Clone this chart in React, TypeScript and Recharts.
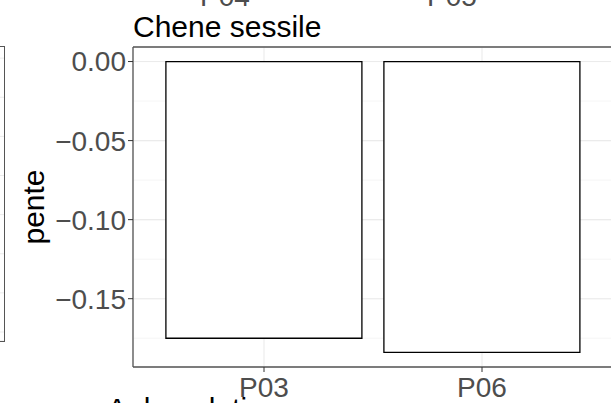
import { BarChart, Bar, XAxis, YAxis, CartesianGrid, Label, ReferenceLine } from 'recharts';

const sites = ['P03', 'P06'];
const pente = [-0.175, -0.184];
const yTicks = [0, -0.05, -0.1, -0.15];
const yMinorTicks = [0, -0.025, -0.05, -0.075, -0.1, -0.125, -0.15, -0.175];
const yDomain = [-0.1932, 0.0092];
const facetTitle = 'Chene sessile';
const nextFacetTitle = 'Aulne glutineux';
const aboveTicks = ['P04', 'P05'];
const leftPanelLines = [0, 1, 2, 3, 4, 5, 6, 7];

const data = sites.map((site, i) => ({ site, pente: pente[i] }));
const leftData = leftPanelLines.map((v) => ({ v }));

const FONT = '"Liberation Sans", Arial, sans-serif';
const TEXT = '#4D4D4D';
const BORDER = '#555555';

const fmt = (v: number) => (v === 0 ? '0.00' : '\u2212' + Math.abs(v).toFixed(2));

function YTitle(props: any) {
  const vb = props.viewBox;
  const x = vb.x + 33;
  const y = vb.y + vb.height / 2;
  return (
    <text
      x={x}
      y={y}
      transform={`rotate(-90, ${x}, ${y})`}
      textAnchor="middle"
      dominantBaseline="central"
      fontSize={30}
      fill="#000"
      fontFamily={FONT}
    >
      pente
    </text>
  );
}

export default function App() {
  return (
    <div
      style={{
        position: 'absolute',
        left: 0,
        top: 0,
        width: 611,
        height: 403,
        overflow: 'hidden',
        background: '#fff',
        fontFamily: FONT,
      }}
    >
      {/* neighbouring panel on the left, only its right edge shows */}
      <div style={{ position: 'absolute', left: -95, top: 46 }}>
        <BarChart width={100} height={295} data={leftData} margin={{ top: 0, right: 0, bottom: 0, left: 0 }}>
          <CartesianGrid vertical={false} stroke="#EBEBEB" strokeWidth={1} />
          <XAxis dataKey="v" hide />
          <YAxis type="number" hide reversed domain={[-0.31, 7.23]} ticks={leftPanelLines} allowDataOverflow />
        </BarChart>
      </div>
      <div
        style={{
          position: 'absolute',
          left: -10,
          top: 46,
          width: 14,
          height: 294,
          borderTop: `1.3px solid ${BORDER}`,
          borderRight: `1.3px solid ${BORDER}`,
          borderBottom: `1.3px solid ${BORDER}`,
        }}
      />

      {/* tick labels of the panel above, cut by the frame */}
      {aboveTicks.map((t, i) => (
        <div
          key={t}
          style={{
            position: 'absolute',
            top: -17,
            left: i === 0 ? 200 : 427,
            fontSize: 28,
            lineHeight: 1,
            color: TEXT,
          }}
        >
          {t}
        </div>
      ))}

      <div style={{ position: 'absolute', left: 133, top: 12, fontSize: 30, lineHeight: 1, color: '#000' }}>
        {facetTitle}
      </div>

      <div style={{ position: 'absolute', left: 0, top: 0 }}>
        <BarChart
          width={620}
          height={403}
          data={data}
          margin={{ top: 47, right: 7, bottom: 0, left: 0 }}
          barCategoryGap="5%"
        >
          <CartesianGrid yAxisId="minor" vertical={false} stroke="#F2F2F2" strokeWidth={0.8} />
          <CartesianGrid stroke="#EBEBEB" strokeWidth={1.1} />
          <XAxis
            dataKey="site"
            height={36}
            padding={{ left: 22, right: 22 }}
            tickSize={5}
            tickMargin={5}
            tick={{ fontSize: 28, fill: TEXT, fontFamily: FONT }}
            tickLine={{ stroke: '#333333' }}
            axisLine={{ stroke: BORDER, strokeWidth: 1.3 }}
          />
          <YAxis
            type="number"
            width={133}
            domain={yDomain}
            ticks={yTicks}
            allowDataOverflow
            tickFormatter={fmt}
            tickSize={5}
            tickMargin={2}
            tick={{ fontSize: 28, fill: TEXT, fontFamily: FONT }}
            tickLine={{ stroke: '#333333' }}
            axisLine={{ stroke: BORDER, strokeWidth: 1.3 }}
          >
            <Label content={<YTitle />} />
          </YAxis>
          <YAxis yAxisId="minor" type="number" hide domain={yDomain} ticks={yMinorTicks} allowDataOverflow />
          <ReferenceLine y={yDomain[1]} stroke={BORDER} strokeWidth={1.3} ifOverflow="extendDomain" />
          <Bar dataKey="pente" fill="#FFFFFF" stroke="#000000" strokeWidth={1.3} isAnimationActive={false} />
        </BarChart>
      </div>

      <div style={{ position: 'absolute', left: 107, top: 394, fontSize: 30, lineHeight: 1, color: '#000' }}>
        {nextFacetTitle}
      </div>
    </div>
  );
}
